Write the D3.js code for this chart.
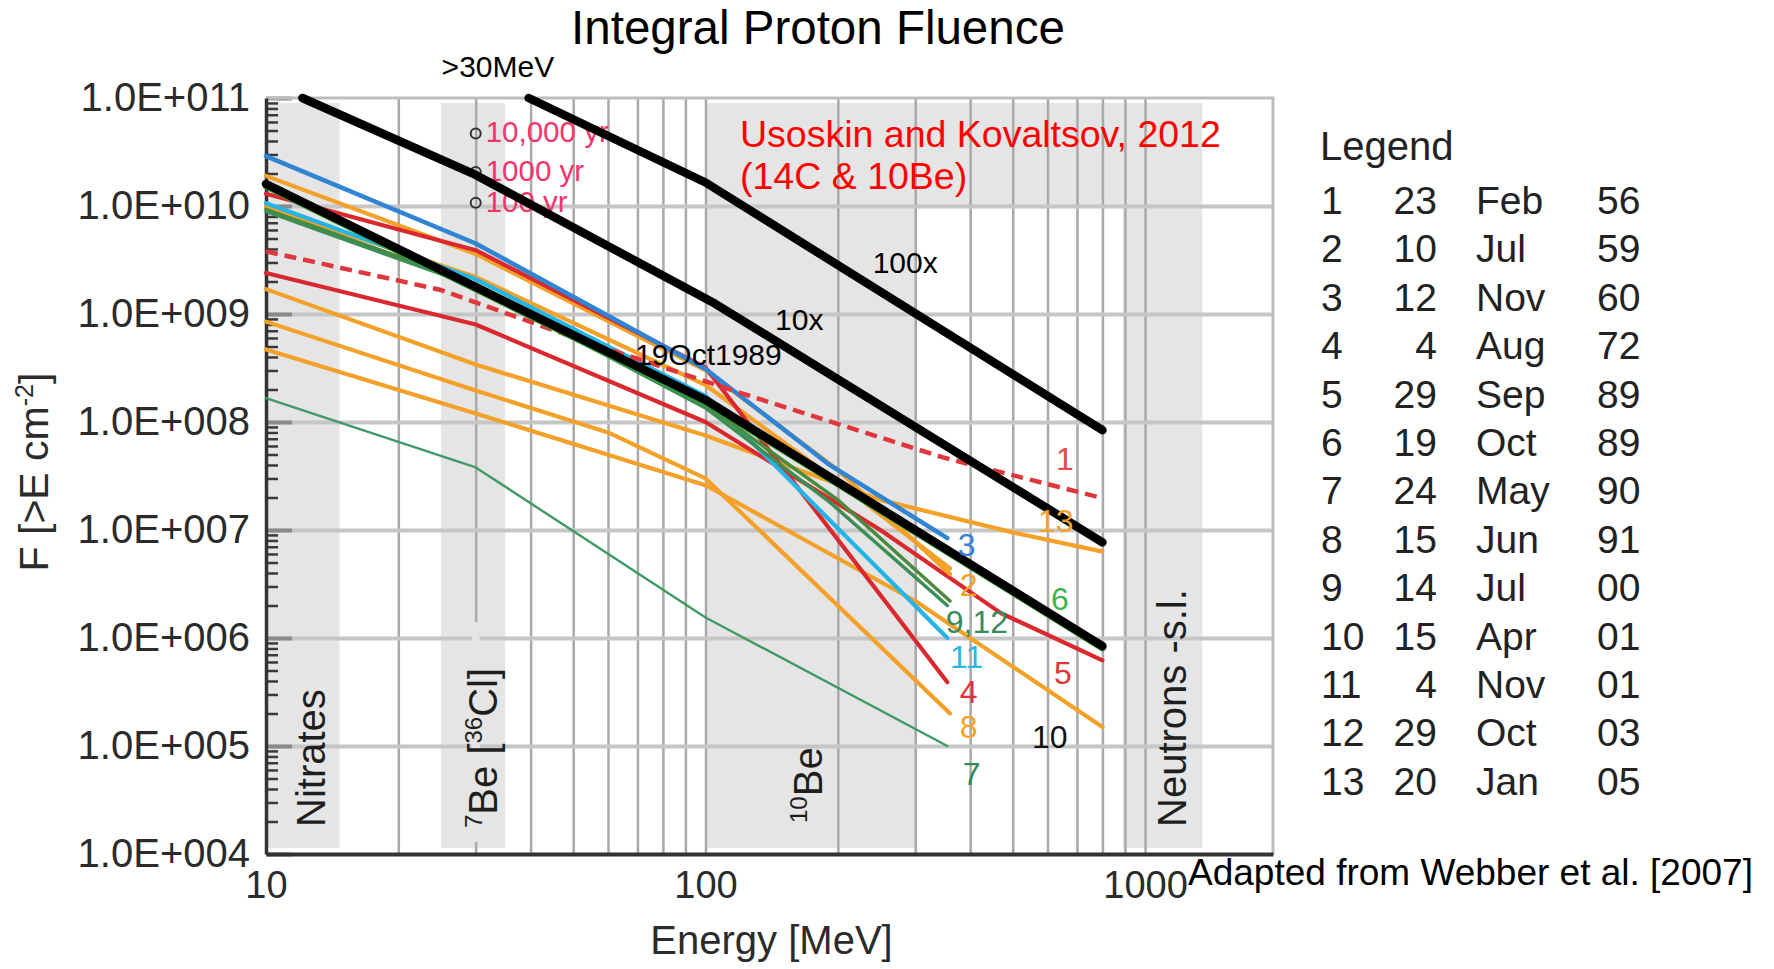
<!DOCTYPE html>
<html><head><meta charset="utf-8">
<script src="https://cdn.jsdelivr.net/npm/d3@7"></script>
<style>
html,body{margin:0;padding:0;background:#fff;}
svg{display:block;font-family:"Liberation Sans",Arial,Helvetica,sans-serif;}
</style></head><body>
<svg id="chart" width="1774" height="969"></svg>
<script>
// ---------------- DATA ----------------
const energyDomain = [10, 1955];
const fluenceDomain = [1e4, 1e11];
const yTickValues = [1e4, 1e5, 1e6, 1e7, 1e8, 1e9, 1e10, 1e11];
const yTickLabels = ["1.0E+004","1.0E+005","1.0E+006","1.0E+007","1.0E+008","1.0E+009","1.0E+010","1.0E+011"];
const xTickValues = [10, 100, 1000];
const xTickLabels = ["10", "100", "1000"];
const xGridValues = [20,30,40,50,60,70,80,90,100,200,300,400,500,600,700,800,900,1000];
const bandRanges = [[10, 14.7], [25, 35], [100, 300], [890, 1350]];
const topBandRange = [300, 890];
const topBandLowerFluence = 1e10;

// events (energy MeV, integral fluence cm^-2)
const ev1E = [10, 25, 53, 122, 347, 790];
const ev1F = [3.8e9, 1.67e9, 5.6e8, 1.82e8, 4.7e7, 2.0e7];
const ev2E = [10, 30, 100, 200, 360];
const ev2F = [1.9e10, 3.6e9, 3.0e8, 3.6e7, 3.9e6];
const ev3E = [10, 30, 100, 190, 355];
const ev3F = [2.9e10, 4.5e9, 3.1e8, 4.1e7, 8.4e6];
const ev4E = [10, 30, 100, 355];
const ev4F = [1.3e10, 3.9e9, 3.2e8, 3.9e5];
const ev5E = [10, 30, 100, 250, 470, 800];
const ev5F = [2.4e9, 8.0e8, 1.0e8, 1.0e7, 1.7e6, 6.2e5];
const ev6E = [10, 100, 800];
const ev6F = [1.52e10, 1.52e8, 8.0e5];
const ev7E = [10, 30, 100, 355];
const ev7F = [1.66e8, 3.8e7, 1.55e6, 1.0e5];
const ev8E = [10, 30, 60, 100, 360];
const ev8F = [8.5e8, 1.96e8, 8.0e7, 3.0e7, 2.0e5];
const ev9E = [10, 30, 100, 192, 355];
const ev9F = [8.9e9, 1.8e9, 1.35e8, 1.8e7, 2.0e6];
const ev10E = [10, 30, 100, 300, 800];
const ev10F = [4.7e8, 1.2e8, 2.6e7, 2.2e6, 1.5e5];
const ev11E = [10, 30, 100, 355];
const ev11F = [1.06e10, 2.1e9, 1.75e8, 1.0e6];
const ev12E = [10, 30, 100, 200, 360];
const ev12F = [9.3e9, 1.9e9, 1.45e8, 1.9e7, 2.2e6];
const ev13E = [10, 30, 100, 250, 500, 800];
const ev13F = [1.7e9, 3.4e8, 7.5e7, 1.9e7, 9.5e6, 6.3e6];
const evXE = [10, 30, 100, 200, 360];
const evXF = [9.8e9, 2.2e9, 2.2e8, 2.8e7, 4.4e6];

// reference lines: 19 Oct 1989, 10x, 100x
const refE = [10, 100, 800];
const refF = [1.6e10, 1.6e8, 8.4e5];
const ref10E = [12.1, 30, 105, 800];
const ref10F = [1e11, 1.94e10, 1.25e9, 7.7e6];
const ref100E = [39.6, 100, 800];
const ref100F = [1e11, 1.65e10, 8.4e7];

// >30 MeV recurrence markers
const markerE = [30, 30, 30];
const markerF = [4.7e10, 2.07e10, 1.07e10];
const markerLabels = ["10,000 yr", "1000 yr", "100 yr"];

// legend table
const legendNum = ["1","2","3","4","5","6","7","8","9","10","11","12","13"];
const legendDay = ["23","10","12","4","29","19","24","15","14","15","4","29","20"];
const legendMonth = ["Feb","Jul","Nov","Aug","Sep","Oct","May","Jun","Jul","Apr","Nov","Oct","Jan"];
const legendYear = ["56","59","60","72","89","89","90","91","00","01","01","03","05"];

// ---------------- DRAW ----------------
const svg = d3.select("#chart");
const P = {left: 266, right: 1273, top: 98, bottom: 854};
const x = d3.scaleLog().domain(energyDomain).range([P.left, P.right]);
const y = d3.scaleLog().domain(fluenceDomain).range([P.bottom, P.top]);
const BAND = "#e5e5e5";
const FONT = '"Liberation Sans",Arial,Helvetica,sans-serif';

// bands
const gB = svg.append("g");
gB.selectAll("rect").data(bandRanges).join("rect")
  .attr("x", d => x(d[0])).attr("width", d => x(d[1]) - x(d[0]))
  .attr("y", P.top + 5).attr("height", P.bottom - P.top - 11).attr("fill", BAND);
gB.append("rect")
  .attr("x", x(topBandRange[0])).attr("width", x(topBandRange[1]) - x(topBandRange[0]))
  .attr("y", P.top + 5).attr("height", y(topBandLowerFluence) - P.top - 5).attr("fill", BAND);

// vertical grid
const gvx = svg.append("g").attr("transform", `translate(0,${P.bottom})`)
  .call(d3.axisBottom(x).tickValues(xGridValues).tickSize(-(P.bottom - P.top)).tickFormat(""));
gvx.select(".domain").remove();
gvx.selectAll("line").attr("stroke", "#a9a9a9").attr("stroke-width", 2.5);

// horizontal grid
const ghy = svg.append("g").attr("transform", `translate(${P.left},0)`)
  .call(d3.axisLeft(y).tickValues(yTickValues.slice(1, -1)).tickSize(-(P.right - P.left)).tickFormat(""));
ghy.select(".domain").remove();
ghy.selectAll("line").attr("stroke", "#c6c6c6").attr("stroke-width", 4);

// background patch behind the 7Be label (gap in 30 MeV line)
svg.append("rect").attr("x", x(30) - 4).attr("width", 8).attr("y", 622).attr("height", 220).attr("fill", BAND);

// minor ticks (inside)
const minorVals = y.ticks().filter(v => Math.abs(Math.log10(v) - Math.round(Math.log10(v))) > 1e-6);
const gm = svg.append("g").attr("transform", `translate(${P.left},0)`)
  .call(d3.axisLeft(y).tickValues(minorVals).tickSize(-12).tickFormat(""));
gm.select(".domain").remove();
gm.selectAll("line").attr("stroke", "#3a3a3a").attr("stroke-width", 2.5);
const gM = svg.append("g").attr("transform", `translate(${P.left},0)`)
  .call(d3.axisLeft(y).tickValues(yTickValues).tickSize(-26).tickFormat(""));
gM.select(".domain").remove();
gM.selectAll("line").attr("stroke", "#8a8a8a").attr("stroke-width", 4);

// top & right border
svg.append("path").attr("d", `M${P.left},${P.top}H${P.right}V${P.bottom}`)
  .attr("fill", "none").attr("stroke", "#bdbdbd").attr("stroke-width", 3);

// y axis
const gy = svg.append("g").attr("transform", `translate(${P.left},0)`)
  .call(d3.axisLeft(y).tickValues(yTickValues).tickFormat((d, i) => yTickLabels[i]).tickSize(0).tickPadding(16).tickSizeOuter(0));
gy.select(".domain").attr("stroke", "#333").attr("stroke-width", 3.5);
gy.selectAll("text").attr("font-size", 40).attr("fill", "#2b2b2b").attr("font-family", FONT);

// x axis
const gxa = svg.append("g").attr("transform", `translate(0,${P.bottom})`)
  .call(d3.axisBottom(x).tickValues(xTickValues).tickFormat((d, i) => xTickLabels[i]).tickSize(0).tickPadding(17).tickSizeOuter(0));
gxa.select(".domain").attr("stroke", "#333").attr("stroke-width", 4);
gxa.selectAll("text").attr("font-size", 38).attr("fill", "#2b2b2b").attr("font-family", FONT);

// axis titles
svg.append("text").attr("x", x(100) + 66).attr("y", 954).attr("text-anchor", "middle")
  .attr("font-size", 40).attr("fill", "#2b2b2b").text("Energy [MeV]");
const yt = svg.append("text").attr("transform", `translate(48,472) rotate(-90)`)
  .attr("text-anchor", "middle").attr("font-size", 41).attr("fill", "#2b2b2b");
yt.append("tspan").text("F [>E cm");
yt.append("tspan").attr("font-size", 25).attr("dy", -15).text("-2");
yt.append("tspan").attr("dy", 15).text("]");

// band labels (rotated)
function rotLabel(px, py, parts) {
  const t = svg.append("text").attr("transform", `translate(${px},${py}) rotate(-90)`)
    .attr("font-size", 40).attr("fill", "#1e1e1e");
  parts.forEach(p => {
    const s = t.append("tspan").text(p.t);
    if (p.sup) s.attr("font-size", 24).attr("dy", -15);
    if (p.back) s.attr("dy", 15);
  });
}
rotLabel(325, 827, [{t: "Nitrates"}]);
rotLabel(497, 828, [{t: "7", sup: true}, {t: "Be [", back: true}, {t: "36", sup: true}, {t: "Cl]", back: true}]);
rotLabel(822, 823, [{t: "10", sup: true}, {t: "Be", back: true}]);
rotLabel(1186, 827, [{t: "Neutrons -s.l."}]);

// event lines
const ORANGE = "#f4a12a", RED = "#d9292e";
const series = [
  {E: evXE, F: evXF, c: ORANGE, w: 4.2},
  {E: ev13E, F: ev13F, c: ORANGE, w: 4.2},
  {E: ev10E, F: ev10F, c: ORANGE, w: 4.2},
  {E: ev8E, F: ev8F, c: ORANGE, w: 4.2},
  {E: ev7E, F: ev7F, c: "#3f9a64", w: 2.4},
  {E: ev5E, F: ev5F, c: RED, w: 4.2},
  {E: ev2E, F: ev2F, c: ORANGE, w: 4.2},
  {E: ev4E, F: ev4F, c: RED, w: 4.2},
  {E: ev11E, F: ev11F, c: "#25b4e6", w: 4.2},
  {E: ev12E, F: ev12F, c: "#4a8a3c", w: 3.5},
  {E: ev9E, F: ev9F, c: "#3b8f55", w: 3.5},
  {E: ev3E, F: ev3F, c: "#2f84d4", w: 4.5},
  {E: ev1E, F: ev1F, c: "#e0373c", w: 4.5, dash: "12,7"},
  {E: ev6E, F: ev6F, c: "#2ca02c", w: 6}
];
const line = d3.line().x(d => x(d[0])).y(d => y(d[1]));
const gL = svg.append("g").attr("fill", "none").attr("stroke-linejoin", "round").attr("stroke-linecap", "round");
series.forEach(s => {
  gL.append("path").attr("d", line(d3.zip(s.E, s.F))).attr("stroke", s.c).attr("stroke-width", s.w)
    .attr("stroke-dasharray", s.dash || null).attr("stroke-linecap", s.dash ? "butt" : "round");
});

// markers
svg.selectAll("circle.mk").data(d3.zip(markerE, markerF)).join("circle")
  .attr("cx", d => x(d[0])).attr("cy", d => y(d[1])).attr("r", 5)
  .attr("fill", "none").attr("stroke", "#333").attr("stroke-width", 2);
svg.selectAll("text.mk").data(d3.zip(markerE, markerF, markerLabels)).join("text")
  .attr("x", d => x(d[0]) + 10).attr("y", d => y(d[1]) + 9)
  .attr("font-size", 29.5).attr("fill", "#f2346c").text(d => d[2]);

// black reference lines
const gK = svg.append("g").attr("fill", "none").attr("stroke-linejoin", "round").attr("stroke-linecap", "round");
[[refE, refF], [ref10E, ref10F], [ref100E, ref100F]].forEach(r => {
  gK.append("path").attr("d", line(d3.zip(r[0], r[1]))).attr("stroke", "#000").attr("stroke-width", 8.5);
});

// annotations in data space
const ann = [
  {t: "100x", E: 240, F: 2.4e9, s: 30, c: "#000"},
  {t: "10x", E: 144, F: 7.1e8, s: 30, c: "#000"},
  {t: "19Oct1989", E: 69.1, F: 3.37e8, s: 30, c: "#000"},
  {t: ">30MeV", E: 33.7, F: 1.56e11, s: 30, c: "#000", a: "middle"},
  {t: "Usoskin and Kovaltsov, 2012", E: 119.8, F: 3.5e10, s: 37.5, c: "#ff0000"},
  {t: "(14C & 10Be)", E: 119.8, F: 1.45e10, s: 37.5, c: "#ff0000"},
  {t: "1", E: 627, F: 3.6e7, s: 32, c: "#e04a50"},
  {t: "13", E: 571, F: 9.6e6, s: 32, c: ORANGE},
  {t: "3", E: 375, F: 5.7e6, s: 32, c: "#3a80d2"},
  {t: "2", E: 379, F: 2.45e6, s: 32, c: ORANGE},
  {t: "6", E: 611, F: 1.8e6, s: 32, c: "#3cb44a"},
  {t: "9,12", E: 352, F: 1.12e6, s: 32, c: "#3a8a5a"},
  {t: "11", E: 360, F: 5.3e5, s: 32, c: "#2ab8e6"},
  {t: "5", E: 621, F: 3.75e5, s: 32, c: "#e0343a"},
  {t: "4", E: 379, F: 2.5e5, s: 32, c: "#e0343a"},
  {t: "8", E: 379, F: 1.18e5, s: 32, c: ORANGE},
  {t: "10", E: 553, F: 9.6e4, s: 32, c: "#111"},
  {t: "7", E: 385, F: 4.4e4, s: 32, c: "#2e8b57"}
];
svg.selectAll("text.ann").data(ann).join("text")
  .attr("x", d => x(d.E)).attr("y", d => y(d.F)).attr("text-anchor", d => d.a || "start")
  .attr("font-size", d => d.s).attr("fill", d => d.c).text(d => d.t);

// title
svg.append("text").attr("x", 818).attr("y", 44).attr("text-anchor", "middle")
  .attr("font-size", 47.5).attr("fill", "#000").text("Integral Proton Fluence");

// legend
const gLeg = svg.append("g").attr("font-size", 39).attr("fill", "#222");
gLeg.append("text").attr("x", 1320).attr("y", 160).attr("font-size", 40).text("Legend");
const rowY = i => 214 + i * 48.4;
legendNum.forEach((n, i) => {
  gLeg.append("text").attr("x", 1321).attr("y", rowY(i)).text(n);
  gLeg.append("text").attr("x", 1437).attr("y", rowY(i)).attr("text-anchor", "end").text(legendDay[i]);
  gLeg.append("text").attr("x", 1476).attr("y", rowY(i)).text(legendMonth[i]);
  gLeg.append("text").attr("x", 1597).attr("y", rowY(i)).text(legendYear[i]);
});

svg.append("text").attr("x", 1188).attr("y", 885).attr("font-size", 37).attr("fill", "#000")
  .text("Adapted from Webber et al. [2007]");
</script>
</body></html>
